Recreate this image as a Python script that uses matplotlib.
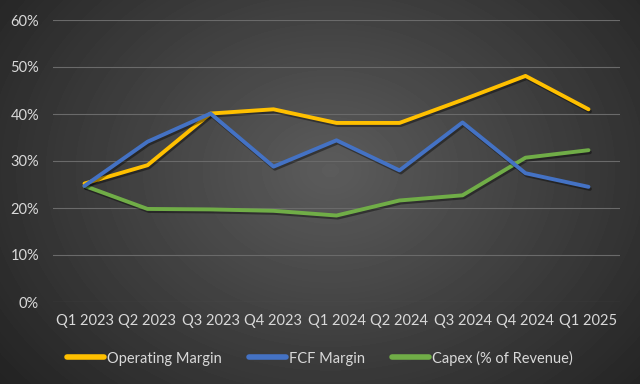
import numpy as np
import matplotlib
matplotlib.use("Agg")
import matplotlib.pyplot as plt
import matplotlib.patheffects as pe

# data
quarters = ["Q1 2023", "Q2 2023", "Q3 2023", "Q4 2023", "Q1 2024",
            "Q2 2024", "Q3 2024", "Q4 2024", "Q1 2025"]
operating_margin = [25.2, 29.1, 40.1, 41.0, 38.1, 38.1, 43.0, 48.1, 41.0]
fcf_margin = [24.7, 34.1, 40.1, 28.8, 34.4, 28.0, 38.2, 27.4, 24.5]
capex_pct = [24.7, 19.8, 19.7, 19.4, 18.4, 21.6, 22.7, 30.7, 32.3]
yticks = [0, 10, 20, 30, 40, 50, 60]

plt.rcParams['font.family'] = ['Lato', 'DejaVu Sans']
txt = '#d9d9d9'

fig = plt.figure(figsize=(6.4, 3.84), dpi=100)

# radial gradient background
bg = fig.add_axes([0, 0, 1, 1])
yy, xx = np.mgrid[0:384, 0:640]
r = np.sqrt(((xx - 330) / 420.0) ** 2 + ((yy - 170) / 330.0) ** 2)
shade = np.clip(0.36 - 0.22 * r, 0.12, 0.36)
bg.imshow(shade, cmap='gray', vmin=0, vmax=1, aspect='auto',
          extent=[0, 1, 0, 1], interpolation='bilinear')
bg.axis('off')

ax = fig.add_axes([53 / 640, 1 - 302 / 384, 567 / 640, 282 / 384])
ax.patch.set_alpha(0)

x = np.arange(len(quarters))
shadow = [pe.SimpleLineShadow(offset=(1, -1.5), shadow_color='black', alpha=0.4), pe.Normal()]
l1, = ax.plot(x, operating_margin, color='#ffc000', lw=2.8, label='Operating Margin',
              solid_joinstyle='round', solid_capstyle='round', path_effects=shadow, zorder=3)
l2, = ax.plot(x, fcf_margin, color='#4472c4', lw=2.8, label='FCF Margin',
              solid_joinstyle='round', solid_capstyle='round', path_effects=shadow, zorder=4)
l3, = ax.plot(x, capex_pct, color='#70ad47', lw=2.8, label='Capex (% of Revenue)',
              solid_joinstyle='round', solid_capstyle='round', path_effects=shadow, zorder=2)

ax.set_xlim(-0.5, len(quarters) - 0.5)
ax.set_ylim(0, 60)
ax.set_yticks(yticks)
ax.set_yticklabels([f"{v}%" for v in yticks])
ax.set_xticks(x)
ax.set_xticklabels(quarters)
ax.grid(axis='y', color='#6a6a6a', lw=0.8)
ax.set_axisbelow(True)
for s in ax.spines.values():
    s.set_visible(False)
ax.tick_params(length=0, colors=txt, labelsize=10.5)
ax.tick_params(axis='x', pad=9)
ax.tick_params(axis='y', pad=10)

leg = fig.legend(handles=[l1, l2, l3], loc='center', bbox_to_anchor=(0.5, 1 - 358 / 384),
                 ncol=3, frameon=False, fontsize=10.5, handlelength=2.5,
                 handletextpad=0.2, columnspacing=1.9, labelcolor=txt)
for h in leg.legend_handles:
    h.set_linewidth(4)
    h.set_path_effects([])

fig.savefig('out.png', dpi=100)
